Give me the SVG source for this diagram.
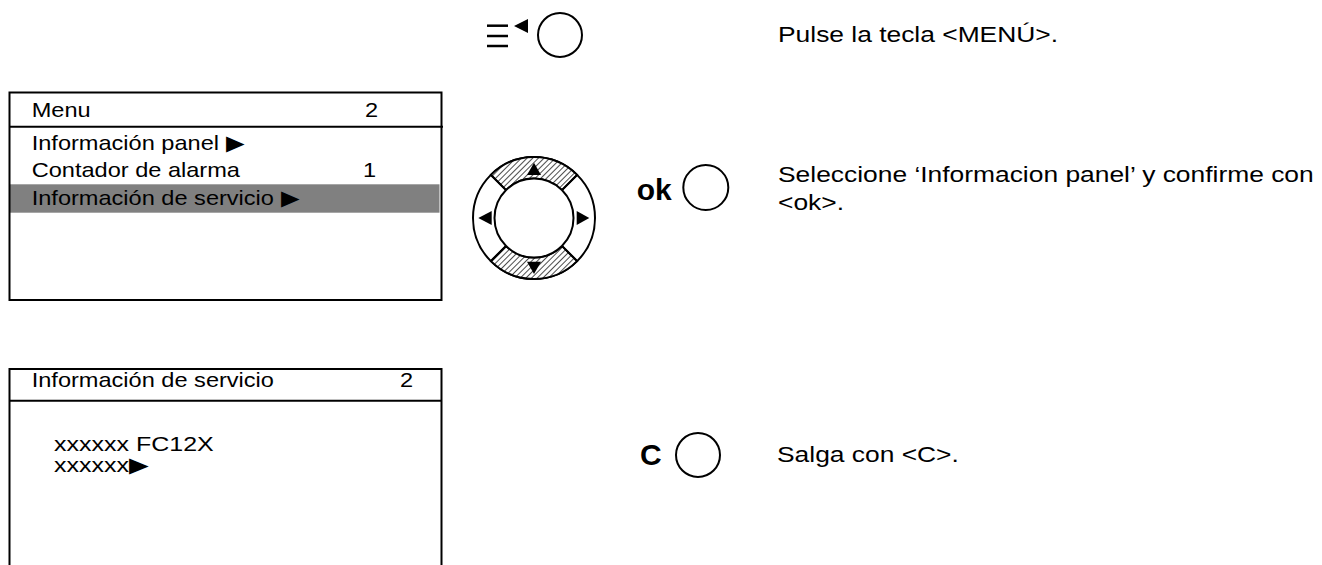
<svg xmlns="http://www.w3.org/2000/svg" width="1322" height="565" viewBox="0 0 1322 565">
<style>
.t{font-family:"Liberation Sans",Arial,sans-serif;font-size:20.5px;fill:#000}
.r{font-family:"Liberation Sans",Arial,sans-serif;font-size:22px;fill:#000}
.b{font-family:"Liberation Sans",Arial,sans-serif;font-size:30px;font-weight:bold;fill:#000}
.box{fill:none;stroke:#000;stroke-width:2}
.ln{stroke:#000;stroke-width:2;fill:none}
.btn{fill:#fff;stroke:#000;stroke-width:2}
</style>
<defs>
<pattern id="hatch" patternUnits="userSpaceOnUse" width="4" height="4" patternTransform="rotate(45)">
<rect width="4" height="4" fill="#fff"/>
<line x1="0" y1="0" x2="0" y2="4" stroke="#000" stroke-width="1.4"/>
</pattern>
</defs>
<rect width="1322" height="565" fill="#fff"/>

<g id="menu-key">
<line x1="487" y1="25.7" x2="508" y2="25.7" stroke="#000" stroke-width="2.5"/>
<line x1="487" y1="36" x2="508" y2="36" stroke="#000" stroke-width="2.5"/>
<line x1="487" y1="46" x2="508" y2="46" stroke="#000" stroke-width="2.5"/>
<polygon points="514,26 528,19 528,33" fill="#000"/>
<circle class="btn" cx="560" cy="35" r="22"/>
</g>
<g id="step1-text">
<text class="r" transform="translate(778 42) scale(1.2 1)">Pulse la tecla &lt;MENÚ&gt;.</text>
</g>

<g id="menu-screen">
<rect x="9.5" y="184.3" width="430" height="28.4" fill="#808080"/>
<rect class="box" x="9.5" y="92.5" width="432" height="207.5"/>
<line class="ln" x1="9.5" y1="126.7" x2="443" y2="126.7"/>
<text class="t" transform="translate(31.7 116.7) scale(1.15 1)">Menu</text>
<text class="t" transform="translate(365 116.7) scale(1.15 1)">2</text>
<text class="t" transform="translate(31.7 150) scale(1.15 1)">Información panel ▶</text>
<text class="t" transform="translate(31.7 177.3) scale(1.15 1)">Contador de alarma</text>
<text class="t" transform="translate(363 177.3) scale(1.15 1)">1</text>
<text class="t" transform="translate(31.7 205) scale(1.15 1)">Información de servicio ▶</text>
</g>

<g id="dpad">
<circle class="btn" cx="534" cy="218" r="61"/>
<path d="M490.9,174.9 A61,61 0 0 1 577.1,174.9 L561.9,190.1 A39.5,39.5 0 0 0 506.1,190.1 Z" fill="url(#hatch)" stroke="#000" stroke-width="2"/>
<path d="M577.1,261.1 A61,61 0 0 1 490.9,261.1 L506.1,245.9 A39.5,39.5 0 0 0 561.9,245.9 Z" fill="url(#hatch)" stroke="#000" stroke-width="2"/>
<line class="ln" x1="506.1" y1="190.1" x2="490.9" y2="174.9"/>
<line class="ln" x1="561.9" y1="190.1" x2="577.1" y2="174.9"/>
<line class="ln" x1="506.1" y1="245.9" x2="490.9" y2="261.1"/>
<line class="ln" x1="561.9" y1="245.9" x2="577.1" y2="261.1"/>
<circle class="btn" cx="534" cy="218" r="39.5"/>
<polygon points="534,162.7 527,175 541,175" fill="#000"/>
<polygon points="534,274 527,261.7 541,261.7" fill="#000"/>
<polygon points="478.3,218 491.7,211 491.7,225" fill="#000"/>
<polygon points="589.3,218 576.7,211 576.7,225" fill="#000"/>
</g>

<g id="ok-key">
<text class="b" x="636.7" y="200">ok</text>
<circle class="btn" cx="705.8" cy="187.5" r="22.5"/>
</g>
<g id="step2-text">
<text class="r" transform="translate(778 182) scale(1.2 1)">Seleccione ‘Informacion panel’ y confirme con</text>
<text class="r" transform="translate(778 210) scale(1.2 1)">&lt;ok&gt;.</text>
</g>

<g id="service-screen">
<path class="box" d="M9.5,566 V369 H441.5 V566"/>
<line class="ln" x1="9.5" y1="400.7" x2="441.5" y2="400.7"/>
<text class="t" transform="translate(31.7 387) scale(1.15 1)">Información de servicio</text>
<text class="t" transform="translate(400 387) scale(1.15 1)">2</text>
<text class="t" transform="translate(54 451) scale(1.22 1)">xxxxxx FC12X</text>
<text class="t" transform="translate(54 472) scale(1.22 1)">xxxxxx▶</text>
</g>

<g id="c-key">
<text class="b" x="640" y="465">C</text>
<circle class="btn" cx="698" cy="455" r="22"/>
</g>
<g id="step3-text">
<text class="r" transform="translate(777 462) scale(1.2 1)">Salga con &lt;C&gt;.</text>
</g>

<g id="connectors"/>
</svg>
